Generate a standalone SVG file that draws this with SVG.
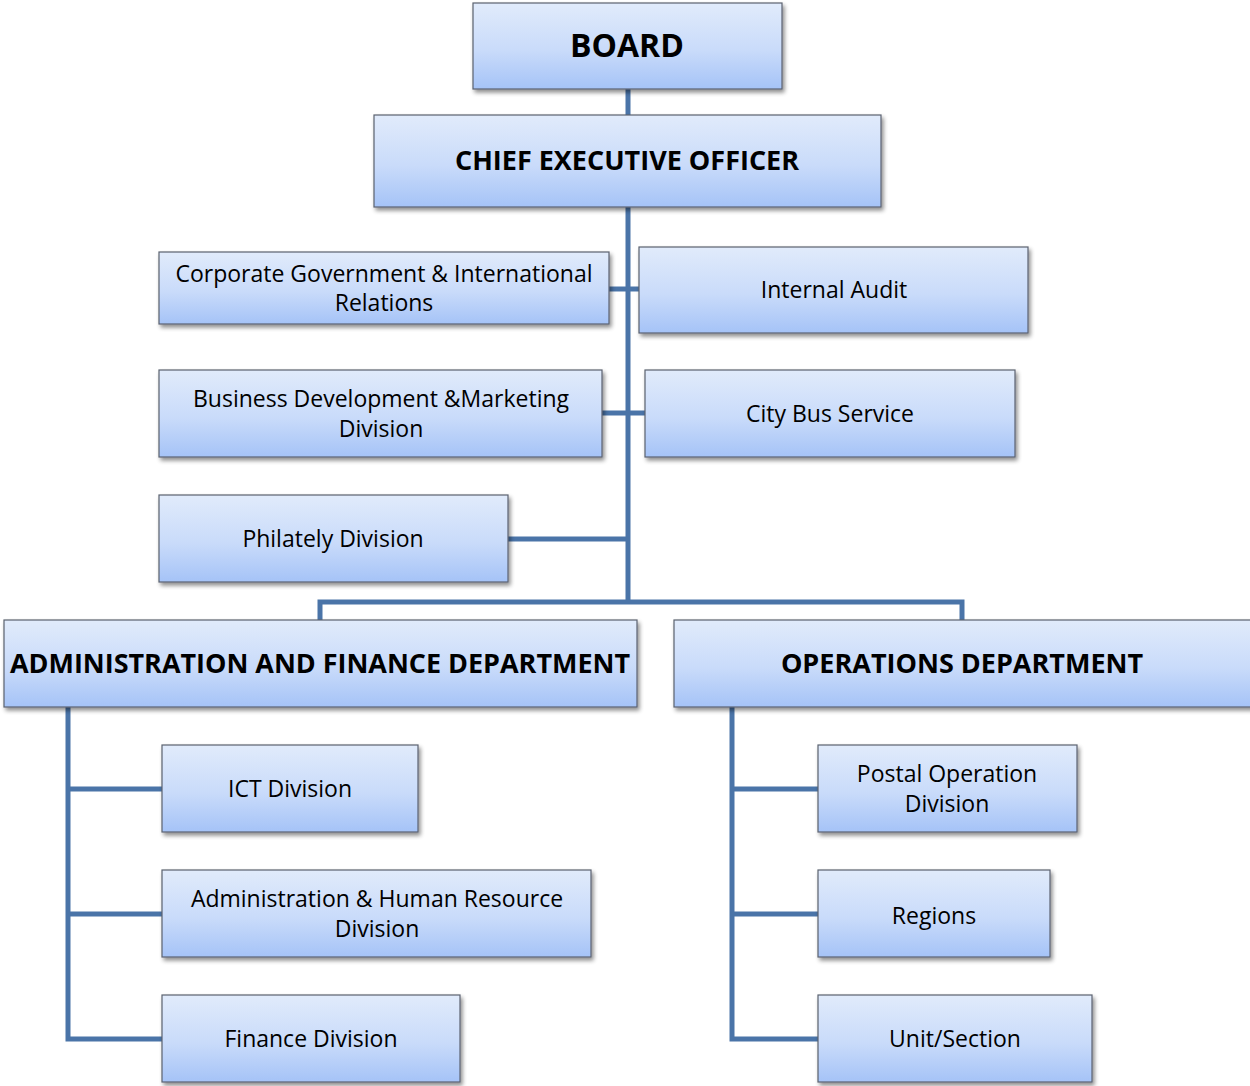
<svg xmlns="http://www.w3.org/2000/svg" width="1250" height="1086" viewBox="0 0 1250 1086">
  <defs>
    <linearGradient id="boxFill" x1="0" y1="0" x2="0" y2="1">
      <stop offset="0" stop-color="#e1ebfb"/>
      <stop offset="0.55" stop-color="#c9dbfa"/>
      <stop offset="1" stop-color="#a5c3f7"/>
    </linearGradient>
    <filter id="shadow" x="-5%" y="-10%" width="112%" height="130%">
      <feGaussianBlur in="SourceAlpha" stdDeviation="2.2"/>
      <feOffset dx="2" dy="3" result="b"/>
      <feComponentTransfer><feFuncA type="linear" slope="0.45"/></feComponentTransfer>
      <feMerge><feMergeNode/><feMergeNode in="SourceGraphic"/></feMerge>
    </filter>
  </defs>
  <style>
    .box { fill: url(#boxFill); stroke: #5a6270; stroke-width: 1.2; filter: url(#shadow); }
    .lbl { font-family: "Open Sans", "Liberation Sans", sans-serif; font-size: 23px; fill: #000; text-anchor: middle; }
    .head { font-family: "Open Sans", "Liberation Sans", sans-serif; font-weight: bold; font-size: 27px; fill: #000; text-anchor: middle; }
    .title { font-size: 32px; }
    .link { fill: none; stroke: #4a74a8; stroke-width: 5; }
  </style>
  <rect width="1250" height="1086" fill="#fff"/>

  <!-- connectors -->
  <g id="connectors" class="link">
    <path d="M628 89 V602"/>
    <path d="M609 289 H639"/>
    <path d="M602 413 H645"/>
    <path d="M508 539 H628"/>
    <path d="M320 620 V602 H962 V620"/>
    <path d="M68 707 V1039 H162"/>
    <path d="M68 789 H162"/>
    <path d="M68 914 H162"/>
    <path d="M732 707 V1039 H818"/>
    <path d="M732 789 H818"/>
    <path d="M732 914 H818"/>
  </g>

  <g id="board">
    <rect class="box" x="473" y="3" width="309" height="86"/>
    <text class="head title" x="627" y="57">BOARD</text>
  </g>
  <g id="ceo">
    <rect class="box" x="374" y="115" width="507" height="92"/>
    <text class="head" x="627" y="170">CHIEF EXECUTIVE OFFICER</text>
  </g>
  <g id="corporate-gov">
    <rect class="box" x="159" y="252" width="450" height="72"/>
    <text class="lbl" x="384" y="282">Corporate Government &amp; International</text>
    <text class="lbl" x="384" y="311">Relations</text>
  </g>
  <g id="internal-audit">
    <rect class="box" x="639" y="247" width="389" height="86"/>
    <text class="lbl" x="834" y="298">Internal Audit</text>
  </g>
  <g id="business-dev">
    <rect class="box" x="159" y="370" width="443" height="87"/>
    <text class="lbl" x="381" y="407">Business Development &amp;Marketing</text>
    <text class="lbl" x="381" y="437">Division</text>
  </g>
  <g id="city-bus">
    <rect class="box" x="645" y="370" width="370" height="87"/>
    <text class="lbl" x="830" y="422">City Bus Service</text>
  </g>
  <g id="philately">
    <rect class="box" x="159" y="495" width="349" height="87"/>
    <text class="lbl" x="333" y="547">Philately Division</text>
  </g>
  <g id="admin-finance">
    <rect class="box" x="4" y="620" width="633" height="87"/>
    <text class="head" x="320" y="673" textLength="620" lengthAdjust="spacingAndGlyphs">ADMINISTRATION AND FINANCE DEPARTMENT</text>
  </g>
  <g id="operations">
    <rect class="box" x="674" y="620" width="590" height="87"/>
    <text class="head" x="962" y="673">OPERATIONS DEPARTMENT</text>
  </g>
  <g id="ict">
    <rect class="box" x="162" y="745" width="256" height="87"/>
    <text class="lbl" x="290" y="797">ICT Division</text>
  </g>
  <g id="admin-hr">
    <rect class="box" x="162" y="870" width="429" height="87"/>
    <text class="lbl" x="377" y="907">Administration &amp; Human Resource</text>
    <text class="lbl" x="377" y="937">Division</text>
  </g>
  <g id="finance">
    <rect class="box" x="162" y="995" width="298" height="87"/>
    <text class="lbl" x="311" y="1047">Finance Division</text>
  </g>
  <g id="postal-ops">
    <rect class="box" x="818" y="745" width="259" height="87"/>
    <text class="lbl" x="947" y="782">Postal Operation</text>
    <text class="lbl" x="947" y="812">Division</text>
  </g>
  <g id="regions">
    <rect class="box" x="818" y="870" width="232" height="87"/>
    <text class="lbl" x="934" y="924">Regions</text>
  </g>
  <g id="unit-section">
    <rect class="box" x="818" y="995" width="274" height="87"/>
    <text class="lbl" x="955" y="1047">Unit/Section</text>
  </g>
</svg>
